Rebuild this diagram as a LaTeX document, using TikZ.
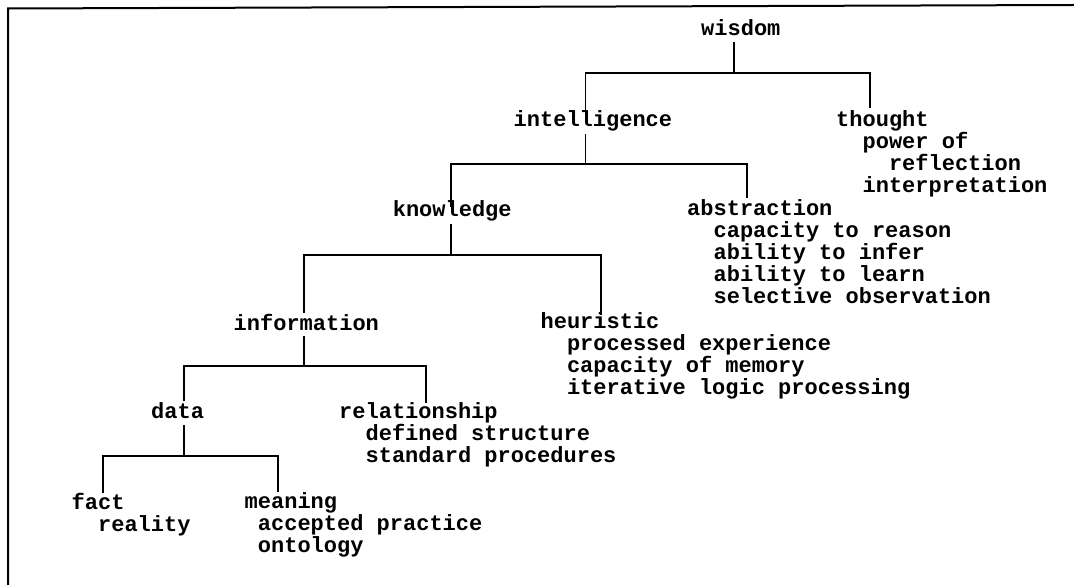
\documentclass[tikz,border=0pt]{standalone}
\usepackage{fontspec}
\setmonofont{Liberation Mono}
\usepackage{tikz}

\tikzset{
  term/.style={anchor=north west, inner sep=0pt, align=left, yshift=15.4pt,
    font=\ttfamily\bfseries\fontsize{22}{22}\selectfont,
    execute at begin node=\strut},
  branch/.style={line width=1.8pt},
}

\begin{document}
\begin{tikzpicture}[x=1pt, y=-1pt]
    \useasboundingbox (0,0) rectangle (1074,585);

    % Draw the frame (only top and left edges show)
    \draw[line width=2pt] (1074,5) -- (8,8.5) -- (8,585);

    % Place the terms (coordinates are first-line baselines)
    \node[term] (wisdom) at (701,35) {wisdom};
    \node[term] (intelligence) at (513.5,126) {intelligence};
    \node[term] (thought) at (836,126) {thought\\\phantom{xx}power of\\\phantom{xxxx}reflection\\\phantom{xx}interpretation};
    \node[term] (knowledge) at (392.6,215.5) {knowledge};
    \node[term] (abstraction) at (687,215) {abstraction\\\phantom{xx}capacity to reason\\\phantom{xx}ability to infer\\\phantom{xx}ability to learn\\\phantom{xx}selective observation};
    \node[term] (information) at (233.5,329) {information};
    \node[term] (heuristic) at (540.4,328) {heuristic\\\phantom{xx}processed experience\\\phantom{xx}capacity of memory\\\phantom{xx}iterative logic processing};
    \node[term] (data) at (151,417.5) {data};
    \node[term] (relationship) at (339,418) {relationship\\\phantom{xx}defined structure\\\phantom{xx}standard procedures};
    \node[term] (fact) at (71.5,508.3) {fact\\\phantom{xx}reality};
    \node[term] (meaning) at (244.5,508) {meaning\\\phantom{x}accepted practice\\\phantom{x}ontology};

    % Stems and bars
    \coordinate (wisdom-out) at (734,42);
    \coordinate (wisdom-bar) at (734,72.7);
    \coordinate (intelligence-out) at (585.5,134);
    \coordinate (intelligence-bar) at (585.5,164.3);
    \coordinate (knowledge-out) at (451,224);
    \coordinate (knowledge-bar) at (451,255);
    \coordinate (information-out) at (304.3,336);
    \coordinate (information-bar) at (304.3,366);
    \coordinate (data-out) at (184,425);
    \coordinate (data-bar) at (184,456);

    % Ends of the lines coming down to each term
    \coordinate (intelligence-in) at (585.5,110);
    \coordinate (thought-in) at (870,108.3);
    \coordinate (knowledge-in) at (451,206.7);
    \coordinate (abstraction-in) at (746.7,198);
    \coordinate (information-in) at (304.3,313);
    \coordinate (heuristic-in) at (601,315);
    \coordinate (data-in) at (184,401);
    \coordinate (relationship-in) at (426,403);
    \coordinate (fact-in) at (102.7,493.3);
    \coordinate (meaning-in) at (278.3,491.7);

    % Draw the tree
    \foreach \p/\l/\r in {wisdom/intelligence/thought, intelligence/knowledge/abstraction,
        knowledge/information/heuristic, information/data/relationship, data/fact/meaning}
      \draw[branch] (\p-out) -- (\p-bar) (\l-in) |- (\p-bar) -| (\r-in);
\end{tikzpicture}
\end{document}
